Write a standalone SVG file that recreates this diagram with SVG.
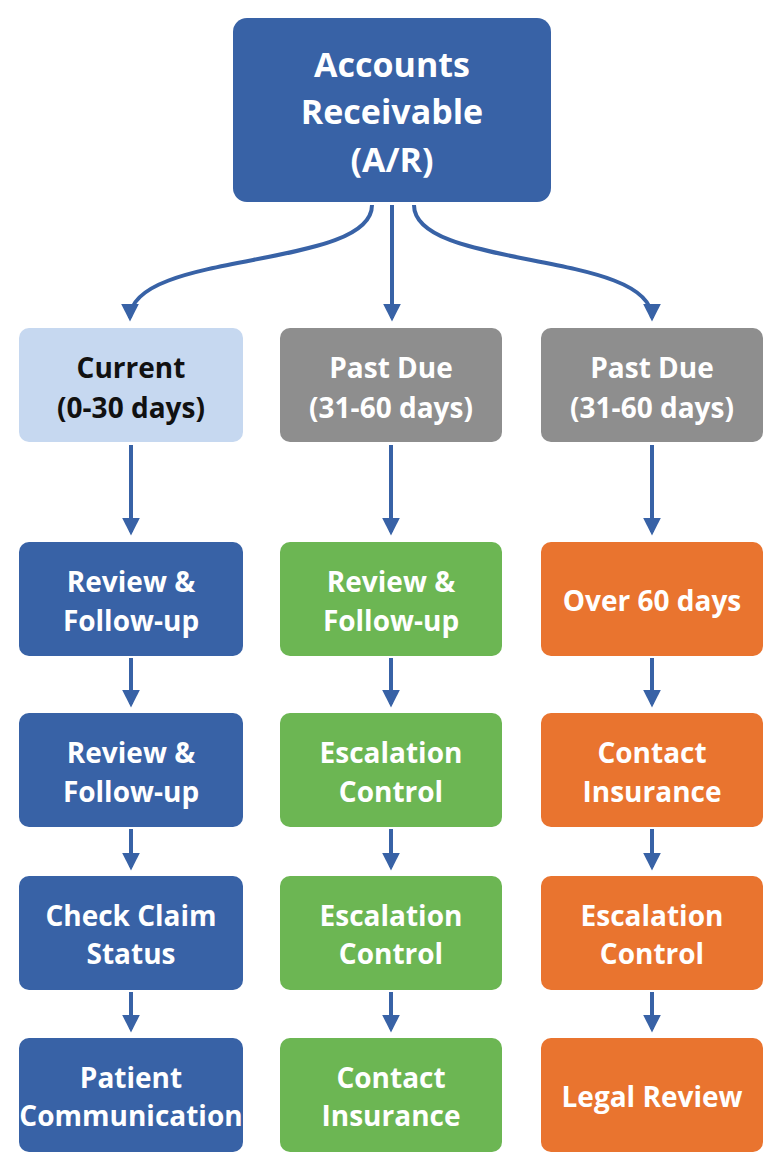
<svg xmlns="http://www.w3.org/2000/svg" width="784" height="1168" viewBox="0 0 784 1168">
<style>
.t{font-family:"Open Sans","Liberation Sans",sans-serif;font-weight:bold;font-size:28px;text-anchor:middle;fill:#fff}
.d{fill:#111}
.blue{fill:#3862a6}.lb{fill:#c6d8f0}.gray{fill:#8e8e8e}.green{fill:#6cb653}.orange{fill:#e9742f}
.c{stroke:#3862a6;stroke-width:4;fill:none;marker-end:url(#a)}
</style>
<defs><marker id="a" viewBox="0 0 10 10" refX="8" refY="5" markerWidth="4.5" markerHeight="4.5" orient="auto"><path d="M0,0L10,5L0,10z" fill="#3862a6"/></marker></defs>
<rect width="784" height="1168" fill="#fff"/>
<g id="connectors">
<path class="c" d="M372,205 C372,270 130,250 130,318"/>
<path class="c" d="M392,205 L392,318"/>
<path class="c" d="M414,205 C414,270 652,250 652,318"/>
<path class="c" d="M131,445 V532"/><path class="c" d="M391,445 V532"/><path class="c" d="M652,445 V532"/>
<path class="c" d="M131,658 V704"/><path class="c" d="M391,658 V704"/><path class="c" d="M652,658 V704"/>
<path class="c" d="M131,829 V867"/><path class="c" d="M391,829 V867"/><path class="c" d="M652,829 V867"/>
<path class="c" d="M131,992 V1029"/><path class="c" d="M391,992 V1029"/><path class="c" d="M652,992 V1029"/>
</g>
<g id="ar"><rect class="blue" x="233" y="18" width="318" height="184" rx="14"/><text class="t" style="font-size:34px" x="392" y="77">Accounts<tspan x="392" y="124">Receivable</tspan><tspan x="392" y="172">(A/R)</tspan></text></g>
<g id="current"><rect class="lb" x="19" y="328" width="224" height="114" rx="10"/><text class="t d" x="131" y="378">Current<tspan x="131" y="418">(0-30 days)</tspan></text></g>
<g id="pd1"><rect class="gray" x="280" y="328" width="222" height="114" rx="10"/><text class="t" x="391" y="378">Past Due<tspan x="391" y="418">(31-60 days)</tspan></text></g>
<g id="pd2"><rect class="gray" x="541" y="328" width="222" height="114" rx="10"/><text class="t" x="652" y="378">Past Due<tspan x="652" y="418">(31-60 days)</tspan></text></g>
<g id="b1"><rect class="blue" x="19" y="542" width="224" height="114" rx="10"/><text class="t" x="131" y="592">Review &amp;<tspan x="131" y="631">Follow-up</tspan></text></g>
<g id="g1"><rect class="green" x="280" y="542" width="222" height="114" rx="10"/><text class="t" x="391" y="592">Review &amp;<tspan x="391" y="631">Follow-up</tspan></text></g>
<g id="o1"><rect class="orange" x="541" y="542" width="222" height="114" rx="10"/><text class="t" x="652" y="611">Over 60 days</text></g>
<g id="b2"><rect class="blue" x="19" y="713" width="224" height="114" rx="10"/><text class="t" x="131" y="763">Review &amp;<tspan x="131" y="802">Follow-up</tspan></text></g>
<g id="g2"><rect class="green" x="280" y="713" width="222" height="114" rx="10"/><text class="t" x="391" y="763">Escalation<tspan x="391" y="802">Control</tspan></text></g>
<g id="o2"><rect class="orange" x="541" y="713" width="222" height="114" rx="10"/><text class="t" x="652" y="763">Contact<tspan x="652" y="802">Insurance</tspan></text></g>
<g id="b3"><rect class="blue" x="19" y="876" width="224" height="114" rx="10"/><text class="t" x="131" y="926">Check Claim<tspan x="131" y="964">Status</tspan></text></g>
<g id="g3"><rect class="green" x="280" y="876" width="222" height="114" rx="10"/><text class="t" x="391" y="926">Escalation<tspan x="391" y="964">Control</tspan></text></g>
<g id="o3"><rect class="orange" x="541" y="876" width="222" height="114" rx="10"/><text class="t" x="652" y="926">Escalation<tspan x="652" y="964">Control</tspan></text></g>
<g id="b4"><rect class="blue" x="19" y="1038" width="224" height="114" rx="10"/><text class="t" x="131" y="1088">Patient<tspan x="131" y="1126">Communication</tspan></text></g>
<g id="g4"><rect class="green" x="280" y="1038" width="222" height="114" rx="10"/><text class="t" x="391" y="1088">Contact<tspan x="391" y="1126">Insurance</tspan></text></g>
<g id="o4"><rect class="orange" x="541" y="1038" width="222" height="114" rx="10"/><text class="t" x="652" y="1107">Legal Review</text></g>
</svg>
